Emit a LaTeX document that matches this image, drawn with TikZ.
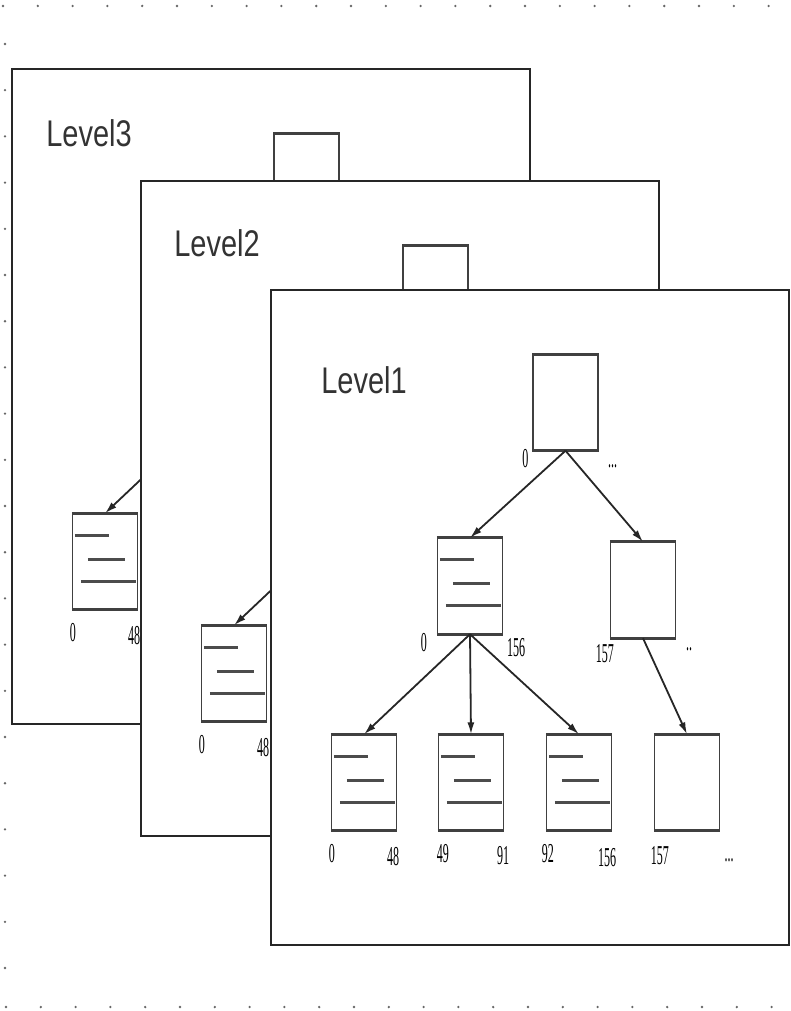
\documentclass[tikz,border=0pt]{standalone}
\usepackage{fontspec}
\newfontfamily\lvlfont{Liberation Sans}
\newfontfamily\numfont{Liberation Serif}
\usetikzlibrary{arrows.meta,calc,positioning}

\tikzset{
  levelframe/.style={draw=black!85,line width=1.8pt,fill=white,anchor=north west,
                     minimum width=518pt,minimum height=655pt,inner sep=0pt},
  pagebox/.style={draw=black!75,line width=1.4pt,fill=white,
                  minimum width=65pt,minimum height=95pt,inner sep=0pt},
  boxrim/.style={line width=2.8pt,black!75},
  keyline/.style={line width=2.8pt,black!70},
  levellbl/.style={font=\lvlfont\fontsize{29}{30}\selectfont,text=black!80,inner sep=0pt},
  numlbl/.style={font=\numfont\fontsize{14}{15}\selectfont,text=black,inner sep=0pt},
  arr/.style={-{Latex[length=12pt,width=7pt]},line width=1.8pt,black!85},
  griddot/.style={fill=black!60}
}

\newcommand{\tallnum}[1]{\scalebox{0.86}[1.95]{#1}}
\newcommand{\levelname}[1]{\scalebox{1}[1.28]{#1}}

% one level: frame, title and index tree (#1 title, #2/#3 title position)
\newcommand{\drawlevel}[3]{%
  \node[levelframe] (frm) at (0,0) {};
  \node[levellbl] (lbl) at (#2,#3) {\levelname{#1}};
  \node[pagebox] (root)  at (295.5,113.5) {};
  \node[pagebox] (inner) at (200,297) {};
  \node[pagebox] (rgt)   at (373,301) {};
  \node[pagebox] (lfA)   at (94,493.5) {};
  \node[pagebox] (lfB)   at (201,493.5) {};
  \node[pagebox] (lfC)   at (309,493.5) {};
  \node[pagebox] (lfD)   at (417,493.5) {};
  \foreach \b in {root,inner,rgt,lfA,lfB,lfC,lfD}{
    \draw[boxrim] (\b.north west) -- (\b.north east);
    \draw[boxrim] (\b.south west) -- (\b.south east);
  }
  \foreach \b in {inner,lfA,lfB,lfC}{
    \draw[keyline] ($(\b.north west)+(3,22)$) -- ++(34,0);
    \draw[keyline] ($(\b.north west)+(16,46)$) -- ++(37,0);
    \draw[keyline] ($(\b.north west)+(9,68)$) -- ++(55,0);
  }
  \draw[arr] (root.south)  -- (inner.north);
  \draw[arr] (root.south)  -- (rgt.north);
  \draw[arr] (inner.south) -- (lfA.north);
  \draw[arr] (inner.south) -- (lfB.north);
  \draw[arr] (inner.south) -- (lfC.north);
  \draw[arr] (rgt.south)   -- (lfD.north);
  % key ranges
  \node[numlbl] (r0)  at ($(root.south west)+(-7,8)$)   {\tallnum{0}};
  \node[numlbl] (r1)  at ($(root.south east)+(14,16)$)  {\tallnum{...}};
  \node[numlbl] (i0)  at ($(inner.south west)+(-13,8)$) {\tallnum{0}};
  \node[numlbl] (i1)  at ($(inner.south east)+(13,13)$) {\tallnum{156}};
  \node[numlbl] (g0)  at ($(rgt.south west)+(-5,15)$)   {\tallnum{157}};
  \node[numlbl] (g1)  at ($(rgt.south east)+(13,11)$)   {\tallnum{..}};
  \node[numlbl] (a0)  at ($(lfA.south west)+(1,23)$)    {\tallnum{0}};
  \node[numlbl] (a1)  at ($(lfA.south east)+(-4,26)$)   {\tallnum{48}};
  \node[numlbl] (b0)  at ($(lfB.south west)+(5,23)$)    {\tallnum{49}};
  \node[numlbl] (b1)  at ($(lfB.south east)+(-1,25)$)   {\tallnum{91}};
  \node[numlbl] (c0)  at ($(lfC.south west)+(2,23)$)    {\tallnum{92}};
  \node[numlbl] (c1)  at ($(lfC.south east)+(-5,27)$)   {\tallnum{156}};
  \node[numlbl] (d0)  at ($(lfD.south west)+(6,25)$)    {\tallnum{157}};
  \node[numlbl] (d1)  at ($(lfD.south east)+(9,30)$)    {\tallnum{...}};
}

\begin{document}
\begin{tikzpicture}[x=1pt,y=-1pt]
  \useasboundingbox (0,0) rectangle (791,1011);
  % dotted page grid
  \foreach \k in {0,...,22}{
    \fill[griddot] (3+34.8*\k,6) circle (1.3pt);
    \fill[griddot] (6+34.8*\k,1007) circle (1.3pt);
  }
  \foreach \k in {0,...,20}
    \fill[griddot] (5,44+46.2*\k) circle (1.3pt);

  \begin{scope}[shift={(11,68)}]
    \drawlevel{Level3}{78}{65.5}
  \end{scope}
  \begin{scope}[shift={(140,180)}]
    \drawlevel{Level2}{77}{63.5}
  \end{scope}
  \begin{scope}[shift={(270,289)}]
    \drawlevel{Level1}{94}{91}
  \end{scope}
\end{tikzpicture}
\end{document}
